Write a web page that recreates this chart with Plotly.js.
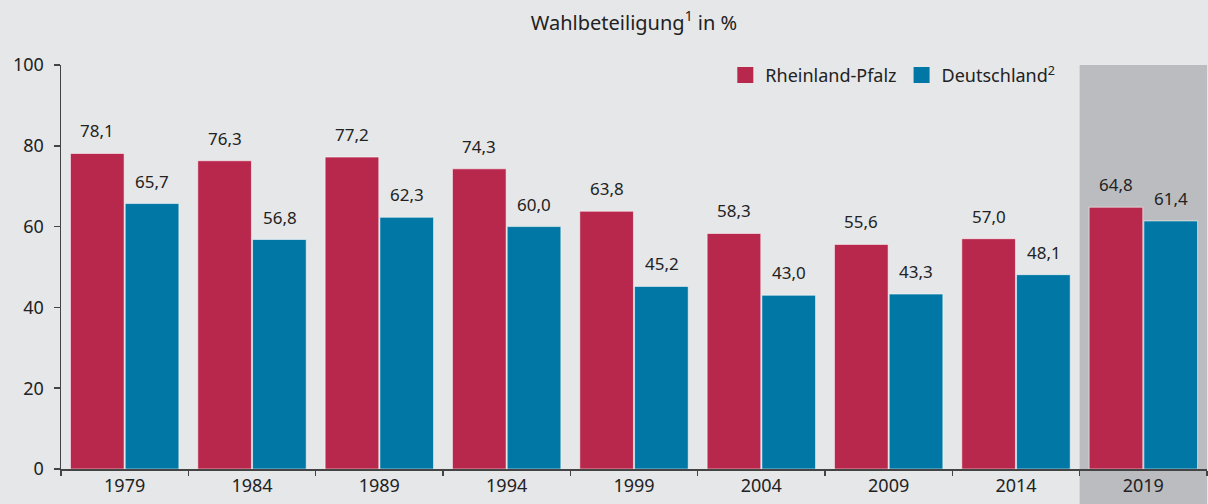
<!DOCTYPE html>
<html>
<head>
<meta charset="utf-8">
<script src="https://cdn.plot.ly/plotly-3.0.1.min.js"></script>
<style>
html,body{margin:0;padding:0;background:#e6e7e9;}
#chart{width:1208px;height:504px;}
</style>
</head>
<body>
<div id="chart"></div>
<script>
var years = ['1979','1984','1989','1994','1999','2004','2009','2014','2019'];
var rlp = [78.1, 76.3, 77.2, 74.3, 63.8, 58.3, 55.6, 57.0, 64.8];
var de = [65.7, 56.8, 62.3, 60.0, 45.2, 43.0, 43.3, 48.1, 61.4];
var seriesNames = ['Rheinland-Pfalz', 'Deutschland<sup>2</sup>'];
var titleText = 'Wahlbeteiligung<sup>1</sup> in %';
var highlightYear = '2019';

var red = '#b8284c';
var blue = '#0077a4';
var bg = '#e6e7e9';
var txt = '#222222';
var font = '"Noto Sans", "Open Sans", sans-serif';

function fmt(v){ return v.toFixed(1).replace('.', ','); }

var traces = [
  {type:'bar', x:years, y:rlp, name:seriesNames[0], showlegend:false, legendgroup:'a',
   marker:{color:red, line:{color:'rgba(255,255,255,0.55)', width:1}}, hoverinfo:'none'},
  {type:'bar', x:years, y:de, name:seriesNames[1], showlegend:false, legendgroup:'b',
   marker:{color:blue, line:{color:'rgba(255,255,255,0.55)', width:1}}, hoverinfo:'none'},
  // legend entries with larger square keys
  {type:'scatter', mode:'markers', x:[null], y:[null], name:seriesNames[0], legendgroup:'a',
   marker:{symbol:'square', size:17, color:red}, hoverinfo:'none'},
  {type:'scatter', mode:'markers', x:[null], y:[null], name:seriesNames[1], legendgroup:'b',
   marker:{symbol:'square', size:17, color:blue}, hoverinfo:'none'}
];

var annotations = [];
years.forEach(function(yr, i){
  annotations.push({x:i, y:rlp[i], text:fmt(rlp[i]), xref:'x', yref:'y', showarrow:false,
    yanchor:'bottom', xshift:-27.5, yshift:9, font:{family:font, size:17, color:txt}});
  annotations.push({x:i, y:de[i], text:fmt(de[i]), xref:'x', yref:'y', showarrow:false,
    yanchor:'bottom', xshift:27.5, yshift:9, font:{family:font, size:17, color:txt}});
});

var n = years.length;
var hi = years.indexOf(highlightYear);

var layout = {
  width:1208, height:504,
  paper_bgcolor:bg, plot_bgcolor:bg,
  margin:{l:61, r:1, t:65, b:35, pad:0},
  font:{family:font, size:18, color:txt},
  title:{text:titleText, xref:'paper', x:0.5, xanchor:'center', y:0.955, yanchor:'middle',
         font:{family:font, size:20, color:txt}},
  barmode:'group', bargap:0.14, bargroupgap:0.02,
  showlegend:true,
  legend:{orientation:'h', x:0.872, xanchor:'right', y:1.02, yanchor:'top',
          bgcolor:'rgba(0,0,0,0)', font:{family:font, size:18, color:txt},
          traceorder:'normal', itemsizing:'trace', itemwidth:30, tracegroupgap:0},
  xaxis:{type:'category', range:[-0.5, n-0.5], autorange:false,
         showline:true, linecolor:'#444', linewidth:1.5,
         ticks:'outside', tickson:'boundaries', ticklen:5, tickcolor:'#444', tickwidth:1.5,
         showgrid:false, zeroline:false, fixedrange:true, tickangle:0,
         tickfont:{family:font, size:18, color:txt}},
  yaxis:{range:[0,100], autorange:false, tickvals:[0,20,40,60,80,100], showline:true, linecolor:'#444', linewidth:1.5,
         ticks:'outside', ticklen:6, tickcolor:'#444', tickwidth:1.5, ticklabelstandoff:6,
         showgrid:false, zeroline:false, fixedrange:true,
         tickfont:{family:font, size:18, color:txt}},
  shapes:[{type:'rect', xref:'paper', yref:'paper', x0:hi/n, x1:(hi+1)/n, y0:-0.2, y1:1,
           fillcolor:'#bbbcc0', line:{width:0}, layer:'below'}],
  annotations:annotations
};

Plotly.newPlot('chart', traces, layout, {staticPlot:true, displayModeBar:false});
</script>
</body>
</html>
